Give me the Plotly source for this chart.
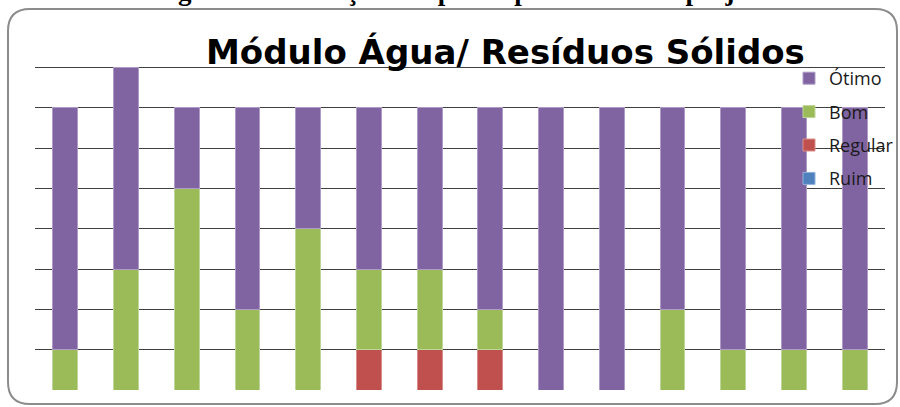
import plotly.graph_objects as go

categories = [str(i) for i in range(1, 15)]
ruim = [0] * 14
regular = [0, 0, 0, 0, 0, 1, 1, 1, 0, 0, 0, 0, 0, 0]
bom = [1, 3, 5, 2, 4, 2, 2, 1, 0, 0, 2, 1, 1, 1]
otimo = [6, 5, 2, 5, 3, 4, 4, 5, 7, 7, 5, 6, 6, 6]

series = [
    ("Ruim", ruim, "#4F81BD", "#8FB0DA", 4),
    ("Regular", regular, "#C0504D", "#DA8E8C", 3),
    ("Bom", bom, "#9BBB59", "#BFD69A", 2),
    ("Ótimo", otimo, "#8064A2", "#AE9CC6", 1),
]

W, H = 900, 407
L, R, T, B = 35, 15, 27, 17
PW, PH = W - L - R, H - T - B


def px(x):
    return (x - L) / PW


def py(y):
    return (H - B - y) / PH


fig = go.Figure()
for name, vals, col, edge, rank in series:
    fig.add_trace(go.Bar(
        x=categories, y=vals, name=name, legendgroup=name, legendrank=rank,
        marker=dict(color=col, line=dict(color=edge, width=1)),
    ))

# rounded frame
x0, y0, x1, y1, r = px(8), py(9), px(897), py(404), 22
rx, ry = r / PW, r / PH
path = (f"M {x0+rx},{y0} L {x1-rx},{y0} Q {x1},{y0} {x1},{y0-ry} "
        f"L {x1},{y1+ry} Q {x1},{y1} {x1-rx},{y1} L {x0+rx},{y1} "
        f"Q {x0},{y1} {x0},{y1+ry} L {x0},{y0-ry} Q {x0},{y0} {x0+rx},{y0} Z")
fig.add_shape(type="path", path=path, xref="paper", yref="paper",
              line=dict(color="#8C8C8C", width=2), layer="below")

fig.add_annotation(
    text="Módulo Água/ Resíduos Sólidos", xref="paper", yref="paper",
    x=px(506), y=py(52), xanchor="center", yanchor="middle", showarrow=False,
    font=dict(family="DejaVu Sans", size=34, color="#000000", weight="bold"),
)
fig.add_annotation(
    text="Figura 5 - Avaliação dos participantes sobre o projeto",
    xref="paper", yref="paper", x=px(461), y=py(8), xanchor="center",
    yanchor="bottom", showarrow=False,
    font=dict(family="Liberation Serif", size=27, color="#000000", weight="bold"),
)

fig.update_layout(
    width=W, height=H, barmode="stack", bargap=0.59,
    margin=dict(l=L, r=R, t=T, b=B, autoexpand=False),
    paper_bgcolor="white", plot_bgcolor="white",
    showlegend=True,
    legend=dict(x=px(789), y=py(60), xanchor="left", yanchor="top",
                traceorder="grouped", tracegroupgap=7,
                bgcolor="rgba(0,0,0,0)",
                font=dict(family="Open Sans", size=18, color="#1a1a1a")),
    xaxis=dict(showticklabels=False, showgrid=False, zeroline=False,
               showline=False, ticks=""),
    yaxis=dict(range=[0, 9], dtick=1, showticklabels=False, showgrid=True,
               gridcolor="#404040", gridwidth=1, zeroline=False,
               showline=False, ticks=""),
)

fig.write_html(
    "out.html",
    config={"displayModeBar": False, "responsive": False},
    post_script="document.body.style.margin='0';document.body.style.overflow='hidden';",
)
